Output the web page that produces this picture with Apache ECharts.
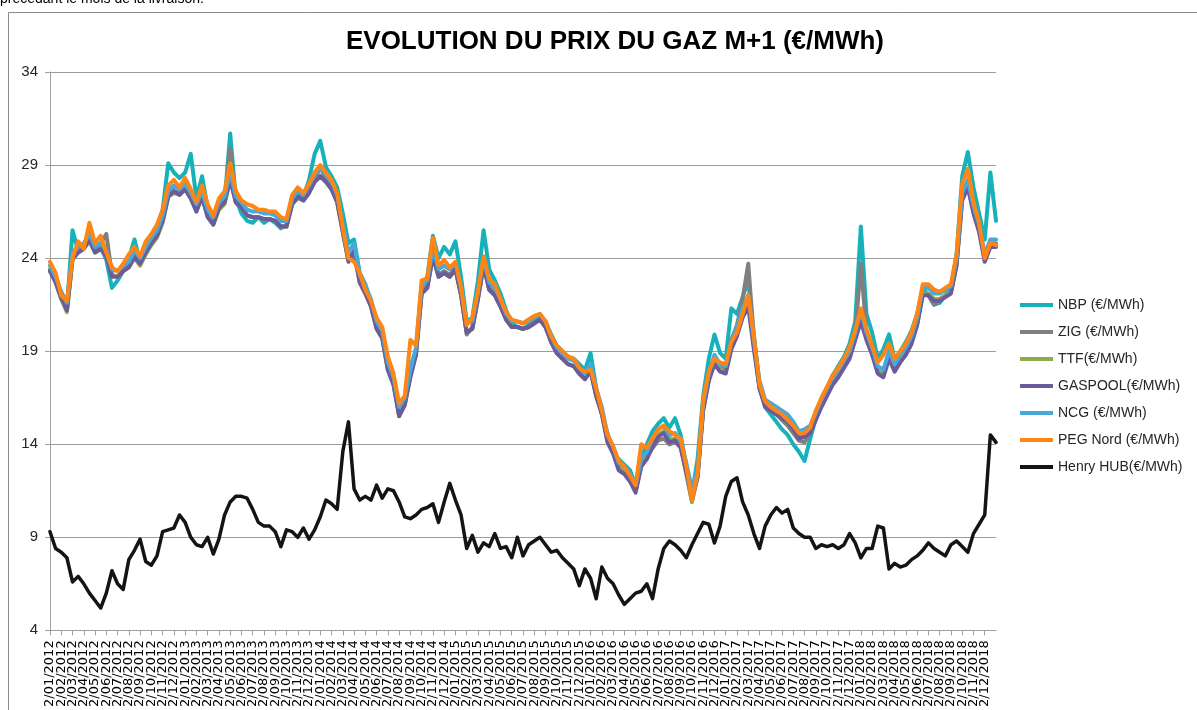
<!DOCTYPE html>
<html>
<head>
<meta charset="utf-8">
<script src="https://cdn.jsdelivr.net/npm/echarts@6/dist/echarts.min.js"></script>
<style>
html,body{margin:0;padding:0;background:#fff;}
#chart{width:1197px;height:710px;}
</style>
</head>
<body>
<div id="chart"></div>
<script>
// Half-month categories from 2/01/2012 to 2/01/2019
const categories = [];
for (let y = 2012; y <= 2019; y++) {
  for (let m = 1; m <= 12; m++) {
    if (y === 2019 && m > 1) break;
    const mm = (m < 10 ? '0' : '') + m;
    categories.push('2/' + mm + '/' + y);
    if (y !== 2019) categories.push('16/' + mm + '/' + y);
  }
}
const yTicks = [4, 9, 14, 19, 24, 29, 34];

const nbp = [23.3,22.8,21.9,21.3,25.5,24.4,24.7,25.0,24.4,24.6,23.9,22.4,22.8,23.3,24.0,25.0,23.8,24.5,25.0,25.6,26.6,29.1,28.6,28.3,28.6,29.6,27.2,28.4,26.7,26.0,26.8,27.0,30.7,27.2,26.4,26.0,25.9,26.2,25.9,26.1,25.9,25.6,25.8,27.0,27.4,27.3,28.2,29.6,30.3,28.9,28.4,27.8,26.4,24.8,25.0,23.2,22.6,21.6,20.6,20.0,18.3,17.4,15.7,16.3,18.2,19.0,22.5,23.0,25.2,24.0,24.6,24.2,24.9,23.0,20.6,20.8,22.8,25.5,23.4,22.8,22.1,21.2,20.5,20.3,20.2,20.4,20.6,20.8,20.6,19.9,19.3,19.0,18.7,18.6,18.3,18.0,18.9,17.0,15.6,14.6,13.6,13.2,12.9,12.6,11.8,13.3,14.0,14.7,15.1,15.4,14.9,15.4,14.5,12.8,11.3,13.2,16.6,18.6,19.9,18.9,18.6,21.3,21.0,21.9,22.8,19.9,17.2,16.0,15.6,15.2,14.8,14.5,14.0,13.6,13.1,14.3,15.4,16.3,17.0,17.7,18.2,18.7,19.4,20.6,25.7,21.0,20.0,18.6,19.1,19.9,18.6,19.0,19.5,20.1,21.0,22.4,22.0,21.5,21.6,22.0,22.4,24.2,28.4,29.7,27.8,26.4,25.0,28.6,26.0];
const zig = [23.4,22.7,21.8,21.2,24.0,24.4,24.6,25.0,24.5,24.8,25.3,23.1,23.0,23.3,23.6,24.1,23.7,24.3,24.8,25.2,26.0,27.4,27.6,27.5,27.8,27.3,26.6,27.3,26.3,25.9,26.7,27.0,29.9,27.0,26.7,26.3,26.2,26.2,26.1,26.1,26.0,25.7,25.7,26.9,27.3,27.1,27.6,28.2,28.9,28.2,27.8,27.1,25.5,24.0,24.3,22.8,22.2,21.5,20.3,19.8,18.1,17.3,15.6,16.2,17.7,18.9,22.2,22.5,24.2,23.1,23.3,23.1,23.5,22.1,19.9,20.3,21.9,23.7,22.4,22.1,21.5,20.7,20.3,20.3,20.2,20.3,20.5,20.7,20.3,19.5,18.9,18.6,18.3,18.2,17.8,17.5,18.0,16.6,15.7,14.3,13.6,12.8,12.5,12.2,11.5,12.9,13.3,13.8,14.2,14.3,14.0,14.1,13.9,12.4,10.9,12.3,15.9,17.5,18.5,18.3,18.0,19.6,20.4,21.8,23.7,19.7,17.0,16.1,15.8,15.6,15.3,15.0,14.6,14.2,14.1,14.6,15.4,16.1,16.7,17.3,17.7,18.2,18.7,19.9,23.7,20.0,19.0,17.9,17.8,18.7,18.0,18.5,18.9,19.5,20.5,22.1,22.0,21.5,21.8,22.0,22.2,23.7,27.3,28.0,26.6,25.6,24.0,24.8,24.8];
const ttf = [23.4,22.7,21.8,21.1,23.9,24.3,24.5,24.9,24.3,24.5,24.1,23.1,23.0,23.3,23.5,24.0,23.6,24.2,24.7,25.1,25.9,27.3,27.5,27.4,27.7,27.2,26.6,27.2,26.3,25.8,26.6,26.9,28.3,27.0,26.7,26.3,26.2,26.2,26.1,26.1,26.0,25.7,25.7,26.9,27.2,27.1,27.5,28.1,28.4,28.1,27.7,27.0,25.4,23.9,24.2,22.7,22.1,21.4,20.2,19.7,18.0,17.2,15.6,16.1,17.7,18.9,22.1,22.4,24.1,23.0,23.2,23.0,23.4,22.0,20.0,20.2,21.8,23.6,22.3,22.0,21.4,20.7,20.3,20.3,20.2,20.3,20.5,20.7,20.3,19.5,18.9,18.6,18.3,18.2,17.8,17.5,18.0,16.6,15.7,14.2,13.6,12.8,12.5,12.2,11.5,12.9,13.3,14.0,14.5,14.7,14.3,14.3,14.0,12.7,10.9,12.3,15.9,17.5,18.5,18.0,17.9,19.2,20.0,21.0,21.6,19.3,17.0,16.1,15.9,15.7,15.5,15.3,14.9,14.5,14.5,14.7,15.4,16.1,16.7,17.3,17.7,18.2,18.7,19.7,20.8,19.7,18.9,17.9,17.7,18.7,18.0,18.5,18.9,19.5,20.5,22.1,22.1,21.8,21.8,22.0,22.2,23.7,27.2,27.9,26.5,25.5,23.9,24.7,24.7];
const gaspool = [23.3,22.7,21.9,21.2,24.0,24.3,24.5,25.0,24.3,24.5,24.1,23.0,23.0,23.3,23.5,24.1,23.7,24.3,24.8,25.2,26.0,27.3,27.6,27.4,27.7,27.2,26.5,27.3,26.2,25.8,26.7,27.0,28.2,27.0,26.7,26.3,26.2,26.2,26.1,26.1,26.0,25.7,25.7,26.9,27.3,27.1,27.5,28.1,28.4,28.1,27.7,27.0,25.4,23.8,24.4,22.7,22.1,21.4,20.2,19.7,18.0,17.2,15.5,16.1,17.6,18.8,22.1,22.4,24.1,23.0,23.2,23.0,23.4,22.0,20.0,20.2,21.8,23.6,22.3,22.0,21.4,20.7,20.3,20.3,20.2,20.3,20.5,20.7,20.3,19.5,18.9,18.6,18.3,18.2,17.8,17.5,17.9,16.6,15.6,14.1,13.5,12.6,12.4,12.0,11.4,12.8,13.2,13.9,14.4,14.6,14.1,14.2,13.8,12.5,11.1,12.2,15.8,17.4,18.3,17.9,17.8,19.1,19.8,20.8,21.4,19.1,17.0,16.0,15.8,15.6,15.4,15.2,14.8,14.3,14.4,14.6,15.3,16.0,16.6,17.2,17.6,18.1,18.6,19.6,20.6,19.6,18.8,17.8,17.6,18.6,17.9,18.4,18.8,19.4,20.4,22.0,22.0,21.7,21.7,21.9,22.1,23.6,27.1,27.8,26.4,25.4,23.8,24.6,24.6];
const ncg = [23.6,23.0,22.2,21.6,24.3,24.6,24.8,25.3,24.6,24.8,24.4,23.4,23.3,23.6,23.8,24.4,24.0,24.6,25.1,25.5,26.3,27.6,27.9,27.7,28.0,27.5,26.9,27.6,26.6,26.2,27.0,27.3,28.6,27.3,27.0,26.6,26.5,26.5,26.4,26.4,26.3,26.0,26.0,27.2,27.6,27.4,27.9,28.5,28.8,28.5,28.1,27.4,25.8,24.3,24.8,23.1,22.5,21.8,20.6,20.1,18.4,17.6,16.0,16.5,18.0,19.2,22.5,22.8,24.5,23.4,23.6,23.4,23.8,22.4,20.5,20.6,22.2,24.0,22.7,22.4,21.8,21.0,20.6,20.6,20.5,20.6,20.8,21.0,20.6,19.8,19.2,18.9,18.6,18.5,18.1,17.8,18.3,17.0,16.0,14.5,13.9,13.0,12.8,12.4,11.8,13.2,13.6,14.3,14.8,15.0,14.5,14.6,14.2,13.0,11.6,12.6,16.2,17.8,18.8,18.3,18.2,19.5,20.3,21.3,22.0,19.6,17.4,16.4,16.2,16.0,15.8,15.6,15.2,14.7,14.8,15.0,15.7,16.4,17.0,17.6,18.0,18.5,19.0,20.0,21.2,20.0,19.2,18.2,18.0,19.0,18.3,18.8,19.2,19.8,20.8,22.4,22.4,22.1,22.1,22.3,22.5,24.0,27.5,28.2,26.8,25.8,24.2,25.0,25.0];
const peg = [23.8,23.2,22.0,21.7,24.0,24.9,24.5,25.9,24.8,25.2,24.3,23.5,23.3,23.7,24.2,24.6,24.1,24.9,25.3,25.8,26.6,27.9,28.2,27.8,28.3,27.7,27.0,27.9,26.9,26.3,27.2,27.6,29.1,27.6,27.1,26.9,26.8,26.6,26.6,26.5,26.5,26.2,26.1,27.4,27.8,27.5,28.0,28.6,29.0,28.6,28.2,27.5,25.6,24.0,23.8,23.2,22.3,21.7,20.8,20.3,18.7,17.8,16.2,16.6,19.6,19.3,22.8,22.9,25.1,23.6,23.9,23.5,23.8,22.4,20.4,20.8,22.2,24.1,22.9,22.6,21.8,21.1,20.7,20.6,20.5,20.7,20.9,21.0,20.6,19.8,19.3,19.0,18.7,18.6,18.1,17.9,18.0,17.0,15.8,14.5,13.9,13.1,12.8,12.3,11.8,14.0,13.8,14.3,14.8,15.0,14.7,14.5,14.3,12.8,11.0,12.4,16.4,17.9,18.6,18.4,18.3,19.5,20.0,21.0,22.0,19.8,17.2,16.3,16.0,15.8,15.6,15.3,15.0,14.6,14.6,14.9,15.8,16.5,17.1,17.7,18.1,18.6,19.2,20.1,21.3,20.2,19.3,18.4,18.8,19.4,18.6,19.0,19.4,20.0,21.0,22.6,22.6,22.3,22.2,22.4,22.6,24.2,28.0,28.8,27.0,25.9,24.0,24.8,24.7];
const henryHub = [9.3,8.4,8.2,7.9,6.6,6.9,6.5,6.0,5.6,5.2,6.0,7.2,6.5,6.2,7.8,8.3,8.9,7.7,7.5,8.0,9.3,9.4,9.5,10.2,9.8,9.0,8.6,8.5,9.0,8.1,8.9,10.2,10.9,11.2,11.2,11.1,10.5,9.8,9.6,9.6,9.3,8.5,9.4,9.3,9.0,9.5,8.9,9.4,10.1,11.0,10.8,10.5,13.6,15.2,11.6,11.0,11.2,11.0,11.8,11.1,11.6,11.5,10.9,10.1,10.0,10.2,10.5,10.6,10.8,9.8,10.9,11.9,11.0,10.2,8.4,9.1,8.2,8.7,8.5,9.2,8.4,8.5,7.9,9.0,8.0,8.6,8.8,9.0,8.6,8.2,8.3,7.9,7.6,7.3,6.4,7.3,6.8,5.7,7.4,6.8,6.5,5.9,5.4,5.7,6.0,6.1,6.5,5.7,7.3,8.4,8.8,8.6,8.3,7.9,8.6,9.2,9.8,9.7,8.7,9.6,11.2,12.0,12.2,10.9,10.2,9.2,8.4,9.6,10.2,10.6,10.3,10.5,9.5,9.2,9.0,9.0,8.4,8.6,8.5,8.6,8.4,8.6,9.2,8.7,7.9,8.4,8.4,9.6,9.5,7.3,7.6,7.4,7.5,7.8,8.0,8.3,8.7,8.4,8.2,8.0,8.6,8.8,8.5,8.2,9.2,9.7,10.2,14.5,14.1];

const seriesDefs = [
  {name: 'NBP (€/MWh)', data: nbp, color: '#17b1b9', width: 4},
  {name: 'ZIG (€/MWh)', data: zig, color: '#7f7f7f', width: 4},
  {name: 'TTF(€/MWh)', data: ttf, color: '#8aae4c', width: 4},
  {name: 'GASPOOL(€/MWh)', data: gaspool, color: '#6b5a9c', width: 4},
  {name: 'NCG (€/MWh)', data: ncg, color: '#46a9de', width: 4},
  {name: 'PEG Nord (€/MWh)', data: peg, color: '#ff8514', width: 4},
  {name: 'Henry HUB(€/MWh)', data: henryHub, color: '#141414', width: 3.5}
];

const chart = echarts.init(document.getElementById('chart'), null, {renderer: 'canvas'});
const lastIdx = categories.length - 1;
const showIdx = (idx) => idx % 2 === 0 && idx < lastIdx;

chart.setOption({
  animation: false,
  backgroundColor: '#ffffff',
  title: {
    text: 'EVOLUTION DU PRIX DU GAZ M+1 (€/MWh)',
    left: 610,
    top: 24,
    textAlign: 'center',
    textStyle: {fontFamily: 'Liberation Sans', fontWeight: 'bold', fontSize: 26, color: '#000'}
  },
  graphic: [
    {type: 'text', left: 0, top: -8, style: {text: 'précédant le mois de la livraison.', font: '14px "Liberation Sans"', fill: '#000'}},
    {type: 'line', shape: {x1: 8.5, y1: 12.5, x2: 1197, y2: 12.5}, style: {stroke: '#8c8c8c', lineWidth: 1}},
    {type: 'line', shape: {x1: 8.5, y1: 12.5, x2: 8.5, y2: 710}, style: {stroke: '#8c8c8c', lineWidth: 1}}
  ],
  legend: {
    orient: 'vertical',
    left: 1020,
    top: 298,
    padding: 0,
    itemWidth: 33,
    itemHeight: 14,
    itemGap: 13,
    icon: 'path://M0,6 L33,6 L33,10 L0,10 Z',
    textStyle: {fontFamily: 'Liberation Sans', fontSize: 14, color: '#262626'},
    data: seriesDefs.map(s => s.name)
  },
  grid: {left: 50, right: 201, top: 72, bottom: 78, containLabel: false},
  xAxis: {
    type: 'category',
    boundaryGap: false,
    data: categories,
    axisLine: {lineStyle: {color: '#a0a0a0', width: 1}},
    axisTick: {show: true, interval: showIdx, length: 5, lineStyle: {color: '#a0a0a0'}},
    axisLabel: {
      interval: 0,
      formatter: (val, idx) => (showIdx(idx) ? val : ''),
      hideOverlap: false,
      rotate: 90,
      margin: 10,
      fontFamily: 'DejaVu Sans',
      fontSize: 13,
      color: '#000'
    },
    splitLine: {show: false}
  },
  yAxis: {
    type: 'value',
    min: yTicks[0],
    max: yTicks[yTicks.length - 1],
    interval: 5,
    axisLine: {show: true, lineStyle: {color: '#a0a0a0', width: 1}},
    axisTick: {show: true, length: 5, lineStyle: {color: '#a0a0a0'}},
    axisLabel: {fontFamily: 'Liberation Sans', fontSize: 15, color: '#262626', margin: 12},
    splitLine: {show: true, lineStyle: {color: '#9c9c9c', width: 1}}
  },
  series: seriesDefs.map(s => ({
    name: s.name,
    type: 'line',
    data: s.data,
    symbol: 'none',
    showSymbol: false,
    color: s.color,
    lineStyle: {color: s.color, width: s.width, join: 'round', cap: 'round'},
    itemStyle: {color: s.color},
    emphasis: {disabled: true}
  }))
});
</script>
</body>
</html>
